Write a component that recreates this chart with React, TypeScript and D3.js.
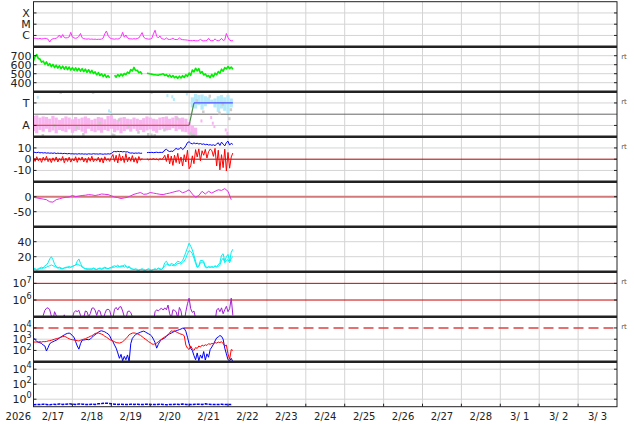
import * as d3 from "d3";

// hours are counted from 2/17 00:00, one value per step
const dayLabels = ["2/17", "2/18", "2/19", "2/20", "2/21", "2/22", "2/23", "2/24", "2/25", "2/26", "2/27", "2/28", "3/ 1", "3/ 2", "3/ 3"];
const yearLabel = "2026";

// X-ray flux, 1e-7 W/m2, hourly
const xray = [
  5.5, 5.8, 5.2, 5.0, 5.4, 4.9, 5.1, 5.6, 5.3, 4.6,
  2.6, 4.4, 5.0, 5.3, 5.6, 7.2, 11, 6.2, 12, 6.5,
  6.0, 6.3, 7.4, 19, 7.1, 6.0, 5.6, 6.1, 8.5, 15,
  6.2, 5.2, 4.9, 4.7, 5.0, 4.6, 4.8, 4.5, 4.7, 4.4,
  4.6, 4.5, 4.8, 6.0, 14, 25, 10, 6.3, 5.2, 4.9,
  4.7, 5.0, 4.8, 5.2, 8.0, 19, 7.0, 11, 6.0, 5.2,
  5.0, 4.8, 5.1, 4.9, 5.3, 6.0, 10, 18, 7.0, 5.4,
  5.0, 4.7, 4.8, 5.5, 14, 29, 8.5, 6.0, 9.0, 5.2,
  4.8, 4.5, 6.0, 4.6, 4.4, 4.7, 5.6, 4.5, 4.3, 4.4,
  6.0, 4.6, 4.2, 4.1, 4.0, 3.8, 3.6, 3.5, 3.4, 3.6,
  3.4, 3.3, 3.6, 4.5, 3.5, 3.3, 3.4, 3.6, 5.5, 3.6,
  3.4, 3.5, 5.0, 3.6, 3.4, 3.8, 5.5, 3.6, 4.0, 15,
  6.5, 3.8, 3.4, 3.5,
];

// solar wind speed km/s, hourly
const speed = [
  640, 690, 712, 668, 662, 628, 640, 605, 632, 592,
  612, 578, 604, 568, 594, 562, 588, 556, 584, 550,
  578, 546, 574, 540, 568, 536, 564, 532, 560, 528,
  556, 524, 550, 516, 544, 510, 536, 502, 520, 488,
  512, 480, 498, 468, 492, 460, 478, 455, null, null,
  482, 462, 490, 470, 496, 476, 502, 490, 518, 504,
  545, 530, 570, 535, 538, 510, 522, 492, null, null,
  505, 502, 498, 495, 490, 488, 486, 484, 490, 494,
  500, 480, 490, 468, 486, 462, 480, 455, 470, 448,
  472, 452, 478, 458, 488, 470, 508, 482, 540, 520,
  560, 532, 556, 505, 524, 486, 498, 470, 480, 456,
  492, 466, 506, 488, 524, 506, 550, 528, 568, 552,
  580, 555, 574, 550,
];

// sector: A = 1, T = 3
const sectorHours = [0, 96, 99, 123];
const sectorSide = [1, 1, 3, 3];
const sectorColors = ["#f04848", "#4a8a4a", "#5050ff"];

// away spread, every 2 h from 0
const awayHi = [
  1.85, 1.9, 1.7, 1.8, 1.75, 1.6, 1.85, 1.7, 1.5, 1.65,
  1.8, 1.7, 1.55, 1.75, 1.6, 1.7, 1.8, 1.65, 1.5, 1.6,
  1.75, 1.7, 1.55, 1.85, 1.9, 1.6, 1.5, 1.7, 1.75, 1.6,
  1.55, 1.7, 1.6, 1.5, 1.65, 1.8, 1.7, 1.6, 1.55, 1.7,
  1.75, 1.8, 1.6, 1.7, 1.85, 1.65, 1.7, 1.6, 1.3, 1.0,
  0.8,
];
const awayLo = [
  0.5, 0.3, 0.6, 0.45, 0.7, 0.4, 0.55, 0.3, 0.6, 0.5,
  0.4, 0.65, 0.35, 0.5, 0.6, 0.45, 0.3, 0.7, 0.5, 0.4,
  0.55, 0.35, 0.6, 0.5, 0.7, 0.4, 0.55, 0.3, 0.5, 0.65,
  0.45, 0.7, 0.5, 0.6, 0.4, 0.55, 0.65, 0.5, 0.35, 0.6,
  0.7, 0.55, 0.6, 0.75, 0.5, 0.65, 0.45, 0.4, 0.2, 0.1,
  0.1,
];
// toward spread, every 2 h from 98
const towardHi = [3.5, 3.8, 3.7, 3.75, 3.6, 3.5, 3.3, 3.4, 3.6, 3.7, 3.5, 3.7, 3.4];
const towardLo = [2.6, 2.5, 2.8, 2.4, 2.7, 2.9, 3.0, 2.6, 2.2, 2.5, 2.3, 2.1, 2.6];
const towardDots = [[2, 3.5], [46, 2.3], [47, 2.15], [82, 3.65], [85, 3.55], [86, 3.3], [94, 3.8]];
const awayDots = [[109, 1.7], [110, 1.2], [111, 0.9], [118, 0.6], [119, 0.3], [103, 1.4]];
const grayDots = [
  [5, 0.1], [16, 3.95], [30, 0.2], [36, 3.95], [48, 0.15], [49, 0.1], [58, 0.9], [70, 0.2],
  [72, 0.15], [72, 3.95], [74, 0.1], [88, 1.6], [96, 0.3], [97, 0.1], [98, 0.15], [104, 2.2],
  [114, 2.1], [120, 1.6], [121, 2.4], [40, 1.2], [64, 0.4], [12, 1.0], [26, 0.8], [52, 1.5],
  [80, 0.6], [100, 3.2], [108, 3.6], [116, 2.9],
];

// IMF Bt and Bz, nT, hourly
const bt = [
  6.4, 6.0, 5.8, 6.2, 5.6, 5.9, 5.5, 5.8, 5.4, 5.6,
  5.3, 5.5, 5.2, 5.6, 5.0, 5.4, 5.1, 5.3, 4.9, 5.2,
  5.0, 4.8, 5.1, 4.7, 4.9, 4.6, 4.8, 4.5, 4.9, 4.6,
  4.8, 4.5, 4.7, 4.4, 4.8, 4.6, 4.5, 4.9, 4.6, 4.7,
  4.5, 4.8, 4.6, 4.4, 4.7, 4.5, 4.8, 4.6, 5.0, 6.5,
  6.9, 6.6, 7.0, 6.7, 6.9, 6.5, 6.8, 6.4, 6.6, 5.8,
  5.4, 5.6, 5.2, 5.5, 5.3, 5.6, 5.2, 5.4, null, null,
  5.8, 6.0, 5.9, 6.1, 5.8, 6.0, 6.2, 5.9, 6.1, 6.0,
  6.2, 8.2, 8.8, 7.5, 6.8, 7.2, 6.9, 8.5, 9.6, 8.8,
  9.2, 10.5, 8.6, 9.8, 12.0, 14.8, 15.5, 14.2, 13.6, 14.5,
  13.8, 14.2, 13.5, 13.9, 13.2, 13.6, 12.9, 13.3, 12.6, 12.9,
  12.4, 12.8, 12.1, 13.5, 14.6, 12.2, 15.2, 13.4, 11.8, 14.8,
  16.0, 12.5, 14.2, 13.1,
];
const bz = [
  1.5, -2.0, 2.2, -1.5, 0.8, -2.8, 1.8, -1.2, 2.5, -2.2,
  0.5, -3.0, 1.2, -1.8, 2.0, -2.5, 0.6, -1.4, 2.4, -3.2,
  1.0, -2.0, 1.8, -2.6, 0.4, -1.6, 2.2, -2.8, 1.4, -1.0,
  2.0, -2.4, 0.8, -3.0, 1.6, -1.8, 2.6, -2.2, 0.2, -1.5,
  1.8, -2.6, 1.2, -3.4, 2.2, -1.2, 0.6, -2.0, 1.5, 4.2,
  -2.0, 3.5, -3.4, 4.8, -1.5, 2.8, -3.0, 5.0, -2.2, 2.0,
  -1.8, 3.2, -2.6, 1.4, -3.6, 2.4, -1.0, 0.8, null, null,
  0.4, -0.6, 0.2, -0.3, 0.6, -0.4, 0.3, -0.8, 0.5, -0.2,
  0.8, 3.5, -2.0, 4.6, -4.2, 2.8, -5.5, 3.6, -3.0, 5.2,
  -4.0, 2.0, -6.0, 4.0, -2.5, 8.0, -8.5, -6.0, 3.0, -4.0,
  8.5, 2.0, 9.2, -1.5, 7.5, 3.5, 8.8, 1.0, 6.5, 9.0,
  7.8, 2.5, 9.6, -6.0, 8.0, -9.5, 4.0, -7.5, 9.0, -10.5,
  6.0, -8.0, 2.0, 5.5,
];

// Dst nT, every 2 h
const dst = [
  -2, -4, -6, -8, -10, -17, -18, -10, -7, -4,
  -2, -1, 4, 0, 2, 4, 5, 7, 6, 4,
  6, 9, 8, 7, 3, -1, -3, -6, -4, -2,
  3, 8, 11, 14, 8, 9, 14, 12, 10, 8,
  7, 10, 12, 15, 18, 20, 13, 17, 23, 9,
  -2, 4, 18, 9, 18, 12, 18, 23, 21, 27,
  18, -10,
];

// proton density /cc, hourly (two sources)
const densityA = [
  5, 4, 3, 4, 5, 6, 5, 8, 9, 12,
  17, 20, 16, 10, 7, 5, 6, 5, 4, 5,
  5, 6, 5, 6, 7, 8, 9, 14, 17, 11,
  7, 5, 4, 3, 4, 3, 4, 5, 4, 3,
  4, 5, 4, 5, 6, 5, 4, 5, 6, 7,
  8, 7, 9, 6, 8, 7, 9, 8, 6, 7,
  5, 4, 3, 4, 3, 2, 3, 4, 3, 2,
  3, 4, 3, 2, 3, 4, 3, 5, 4, 3,
  6, 12, 14, 10, 9, 11, 10, 9, 12, 14,
  13, 12, 15, 20, 26, 32, 38, 34, 29, 22,
  14, 6, 8, 15, 15, 14, 6, 5, 7, 6,
  7, 6, 8, 7, 9, 12, 22, 24, 14, 20,
  23, 14, 26, 30,
];
const densityB = [
  3, 3, 2, 3, 4, 4, 5, 5, 6, 7,
  8, 9, 8, 7, 6, 5, 5, 4, 4, 5,
  6, 6, 7, 6, 7, 8, 9, 10, 9, 8,
  6, 5, 4, 4, 3, 4, 3, 4, 3, 3,
  4, 4, 3, 4, 5, 4, 4, 5, 5, 6,
  6, 7, 6, 7, 6, 8, 6, 7, 5, 6,
  4, 3, 3, 3, 2, 2, 3, 3, 2, 2,
  3, 3, 2, 2, 3, 3, 3, 4, 3, 3,
  5, 8, 10, 9, 8, 9, 8, 8, 9, 11,
  11, 10, 12, 14, 18, 24, 28, 27, 24, 18,
  11, 6, 7, 12, 13, 12, 7, 6, 6, 6,
  6, 6, 7, 6, 7, 9, 15, 18, 12, 15,
  16, 12, 18, 20,
];

// electron fluence, 1e5 units, hourly
const electrons = [
  0.5, 0.5, 0.5, 0.5, 0.5, 0.5, 1.2, 2.4, 3.2, 3.4,
  2.6, 1.1, 0.6, 2.0, 1.2, 0.5, 0.5, 0.5, 0.6, 1.3,
  0.5, 0.5, 0.7, 0.5, 0.9, 1.8, 2.3, 2.0, 2.4, 1.2,
  0.5, 0.9, 2.2, 2.0, 1.0, 1.5, 3.2, 3.4, 2.5, 1.2,
  2.4, 2.2, 1.0, 0.6, 1.5, 2.6, 2.8, 2.4, 1.0, 0.8,
  2.8, 3.6, 2.5, 3.8, 4.0, 2.2, 1.0, 0.7, 2.0, 2.2,
  1.8, 1.0, 0.5, 0.5, 0.5, 0.5, 0.5, 0.5, 0.5, 0.5,
  0.5, 0.5, 0.5, 0.5, 0.5, 2.0, 2.6, 2.2, 2.8, 3.2,
  2.5, 3.4, 2.6, 5.0, 1.5, 0.8, 2.6, 2.4, 2.0, 0.8,
  3.6, 2.2, 0.6, 0.5, 2.0, 6.0, 13.0, 3.0, 1.8, 2.2,
  0.8, 0.5, 0.5, 0.5, 0.5, 0.5, 0.5, 0.5, 0.5, 0.5,
  0.5, 0.5, 0.5, 2.5, 3.2, 2.0, 3.4, 1.5, 2.6, 4.2,
  2.0, 3.0, 13.0, 1.2,
];

// particle flux, hourly
const fluxBlue = [
  1300, 900, 650, 520, 480, 420, 300, 250, 90, 180,
  400, 500, 600, 700, 800, 1000, 1300, 1600, 2000, 2400,
  2900, 3300, 3500, 3000, 2000, 1500, 600, 250, 130, 400,
  800, 850, 900, 950, 900, 1000, 1400, 2000, 2500, 3200,
  4200, 5200, 5600, 5000, 4500, 3600, 3000, 2000, 1000, 600,
  300, 160, 60, 20, 45, 12, 30, 15, 40, 10,
  400, 1200, 1800, 2600, 3200, 3600, 4200, 4800, 5200, 4400,
  3600, 3000, 2500, 1800, 1000, 500, 160, 350, 650, 900,
  1100, 1300, 1800, 2400, 3000, 3500, 4200, 5000, 5600, 6300,
  7100, 8000, 9500, 9000, 5000, 1500, 400, 150, 100, 35,
  15, 60, 12, 40, 20, 80, 14, 50, 25, 120,
  200, 350, 700, 1300, 1600, 2100, 1800, 1000, 160, 50,
  15, 12, 20, 10,
];
const fluxRed = [
  560, 560, 560, 580, 600, 560, 620, 600, 630, 700,
  750, 800, 900, 1000, 1100, 1200, 1300, 1500, 1700, 1800,
  1600, 1300, 1100, 950, 900, 850, 800, 750, 700, 800,
  900, 1000, 1100, 1300, 1500, 1800, 2000, 2600, 3200, 3500,
  3600, 3200, 2800, 2400, 1800, 1500, 1200, 900, 800, 700,
  600, 500, 480, 450, 500, 600, 800, 1100, 1600, 2500,
  3000, 3500, 3600, 3400, 3000, 2600, 2200, 1700, 1300, 1000,
  800, 600, 500, 380, 350, 400, 450, 600, 800, 1000,
  1300, 1600, 2000, 2600, 3600, 5600, 5000, 5600, 4500, 3800,
  3200, 2800, 2600, 2000, 300, 160, 120, 250, 130, 100,
  180, 150, 250, 200, 300, 250, 320, 280, 400, 350,
  420, 380, 500, 450, 550, 500, 600, 400, 250, 300,
  50, 16, 120, 100,
];

// bottom panel, every 2 h
const lowFlux = [
  0.18, 0.2, 0.19, 0.22, 0.2, 0.18, 0.21, 0.2, 0.23, 0.2,
  0.22, 0.24, 0.21, 0.2, 0.23, 0.22, 0.2, 0.19, 0.21, 0.2,
  0.24, 0.26, 0.3, 0.28, 0.25, 0.22, 0.2, 0.21, 0.2, 0.19,
  0.22, 0.2, 0.21, 0.19, 0.2, 0.22, 0.2, 0.19, 0.2, 0.21,
  0.2, 0.18, 0.2, 0.19, 0.21, 0.2, 0.23, 0.2, 0.19, 0.2,
  0.21, 0.22, 0.2, 0.24, 0.21, 0.2, 0.19, 0.2, 0.21, 0.2,
  0.19, 0.2,
];

const W = 634;
const H = 424;
const LEFT = 33.5;
const RIGHT = 617;
const TOP = 1.7;
const PH = 45;
const FONT = "DejaVu Sans, sans-serif";

const x = d3.scaleLinear([0, 360], [LEFT, RIGHT]);
const band = (i: number): [number, number] => [TOP + (i + 1) * PH, TOP + i * PH];

const yXray = d3.scaleLog([1e-7, 1e-3], band(0));
const ySpeed = d3.scaleLinear([300, 800], band(1));
const ySector = d3.scaleLinear([0, 4], band(2));
const yB = d3.scaleLinear([-20, 20], band(3));
const yDst = d3.scaleLinear([-100, 50], band(4));
const yDens = d3.scaleLinear([0, 60], band(5));
const yElec = d3.scaleLog([1e5, 5e7], band(6));
const yFlux = d3.scaleLog([10, 1e5], band(7));
const yLow = d3.scaleLog([0.1, 1e5], band(8));

type Lab = { v: number; t: string; e?: string };
const panels: { y: any; grid: number[]; labels: Lab[]; rt?: boolean }[] = [
  { y: yXray, grid: [1e-4, 1e-5, 1e-6], labels: [{ v: 1e-4, t: "X" }, { v: 1e-5, t: "M" }, { v: 1e-6, t: "C" }] },
  { y: ySpeed, grid: [700, 600, 500, 400], labels: [700, 600, 500, 400].map((v) => ({ v, t: String(v) })), rt: true },
  { y: ySector, grid: [3, 1], labels: [{ v: 3, t: "T" }, { v: 1, t: "A" }], rt: true },
  { y: yB, grid: [10, -10], labels: [{ v: 10, t: "10" }, { v: 0, t: "0" }, { v: -10, t: "-10" }], rt: true },
  { y: yDst, grid: [-50], labels: [{ v: 0, t: "0" }, { v: -50, t: "-50" }] },
  { y: yDens, grid: [40, 20], labels: [{ v: 40, t: "40" }, { v: 20, t: "20" }] },
  { y: yElec, grid: [], labels: [{ v: 1e7, t: "10", e: "7" }, { v: 1e6, t: "10", e: "6" }], rt: true },
  { y: yFlux, grid: [1e3, 1e2], labels: [{ v: 1e4, t: "10", e: "4" }, { v: 1e3, t: "10", e: "3" }, { v: 1e2, t: "10", e: "2" }], rt: true },
  { y: yLow, grid: [1e4, 1e2, 1], labels: [{ v: 1e4, t: "10", e: "4" }, { v: 1e2, t: "10", e: "2" }, { v: 1, t: "10", e: "0" }] },
];

function path(y: any, vals: (number | null)[], step = 1, mul = 1) {
  const gen = d3
    .line<number | null>()
    .defined((d) => d != null)
    .x((_, i) => x(i * step))
    .y((d) => y((d as number) * mul));
  return gen(vals) ?? undefined;
}

export default function App() {
  const days = d3.range(1, 15).map((d) => d * 24);
  const sep = d3.range(1, 9).map((i) => TOP + i * PH);
  const step2 = x(2) - x(0);

  return (
    <svg width={W} height={H} style={{ display: "block", position: "absolute", left: 0, top: 0, background: "#fff" }} fontFamily={FONT}>
      <defs>
        {panels.map((_, i) => (
          <clipPath id={`clip${i}`} key={i}>
            <rect x={LEFT} y={TOP + i * PH} width={RIGHT - LEFT} height={PH} />
          </clipPath>
        ))}
      </defs>

      {/* grid */}
      <g stroke="#d4d4d4" strokeWidth={1}>
        {days.map((d) => (
          <line key={d} x1={x(d)} x2={x(d)} y1={TOP} y2={TOP + 9 * PH} />
        ))}
        {panels.map((p, i) =>
          p.grid.map((v) => <line key={`${i}-${v}`} x1={LEFT} x2={RIGHT} y1={p.y(v)} y2={p.y(v)} />)
        )}
      </g>
      <line x1={LEFT} x2={RIGHT} y1={ySector(2)} y2={ySector(2)} stroke="#666" strokeWidth={1} />
      <line x1={LEFT} x2={RIGHT} y1={yB(0)} y2={yB(0)} stroke="#b00000" strokeWidth={1} />
      <line x1={LEFT} x2={RIGHT} y1={yDst(0)} y2={yDst(0)} stroke="#d27878" strokeWidth={2} />
      <line x1={LEFT} x2={RIGHT} y1={yElec(1e7)} y2={yElec(1e7)} stroke="#cc0000" strokeWidth={1} />
      <line x1={LEFT} x2={RIGHT} y1={yElec(1e6)} y2={yElec(1e6)} stroke="#cc0000" strokeWidth={1} />
      <line x1={LEFT} x2={RIGHT} y1={yFlux(1e4)} y2={yFlux(1e4)} stroke="#e04040" strokeWidth={1.5} strokeDasharray="10,5" />

      {/* data */}
      <g fill="none" strokeWidth={1} strokeLinejoin="round">
        <path clipPath="url(#clip0)" d={path(yXray, xray, 1, 1e-7)} stroke="#ff30ff" />
        <path clipPath="url(#clip1)" d={path(ySpeed, speed)} stroke="#00ee00" strokeWidth={1.6} />
        <g clipPath="url(#clip2)">
          <g fill="#f8b6f0">
            {awayHi.map((hi, i) => (
              <rect key={i} x={x(i * 2) - step2 / 2} y={ySector(hi)} width={step2} height={ySector(awayLo[i]) - ySector(hi)} />
            ))}
            {awayDots.map(([t, v], i) => (
              <rect key={`d${i}`} x={x(t)} y={ySector(v) - 1.5} width={2} height={3} />
            ))}
          </g>
          <g fill="#b4eafa">
            {towardHi.map((hi, i) => (
              <rect key={i} x={x(98 + i * 2) - step2 / 2} y={ySector(hi)} width={step2} height={ySector(towardLo[i]) - ySector(hi)} />
            ))}
            {towardDots.map(([t, v], i) => (
              <rect key={`d${i}`} x={x(t)} y={ySector(v) - 1.5} width={2} height={3} />
            ))}
          </g>
          <g fill="#cccccc">
            {grayDots.map(([t, v], i) => (
              <rect key={i} x={x(t)} y={ySector(v) - 1.5} width={2.5} height={3} />
            ))}
          </g>
          {sectorColors.map((c, i) => (
            <line
              key={i}
              x1={x(sectorHours[i])}
              x2={x(sectorHours[i + 1])}
              y1={ySector(sectorSide[i])}
              y2={ySector(sectorSide[i + 1])}
              stroke={c}
              strokeWidth={1.2}
            />
          ))}
        </g>
        <g clipPath="url(#clip3)">
          <path d={path(yB, bt)} stroke="#0000ff" />
          <path d={path(yB, bz)} stroke="#ff0000" />
        </g>
        <path clipPath="url(#clip4)" d={path(yDst, dst, 2)} stroke="#e030e0" />
        <g clipPath="url(#clip5)" stroke="#00f0f0">
          <path d={path(yDens, densityB)} />
          <path d={path(yDens, densityA)} />
        </g>
        <path clipPath="url(#clip6)" d={path(yElec, electrons, 1, 1e5)} stroke="#a020d0" />
        <g clipPath="url(#clip7)">
          <path d={path(yFlux, fluxBlue)} stroke="#0000ff" />
          <path d={path(yFlux, fluxRed)} stroke="#ff0000" />
        </g>
        <path clipPath="url(#clip8)" d={path(yLow, lowFlux, 2)} stroke="#0000ff" strokeWidth={1.5} strokeDasharray="3,1" />
      </g>

      {/* frame */}
      <g stroke="#222">
        <rect x={LEFT} y={TOP} width={RIGHT - LEFT} height={9 * PH} fill="none" strokeWidth={1} />
        {sep.map((y) => (
          <line key={y} x1={LEFT} x2={RIGHT} y1={y} y2={y} strokeWidth={2.5} />
        ))}
        {days.map((d) => (
          <line key={d} x1={x(d)} x2={x(d)} y1={TOP + 9 * PH} y2={TOP + 9 * PH - 3} strokeWidth={1} />
        ))}
        {panels.map((p, i) =>
          p.labels.map((l) => (
            <g key={`${i}-${l.v}`} strokeWidth={1}>
              <line x1={LEFT} x2={LEFT + 3} y1={p.y(l.v)} y2={p.y(l.v)} />
              <line x1={RIGHT} x2={RIGHT - 3} y1={p.y(l.v)} y2={p.y(l.v)} />
            </g>
          ))
        )}
      </g>

      {/* labels */}
      <g fill="#222" fontSize={11}>
        {panels.map((p, i) =>
          p.labels.map((l) => (
            <text
              key={`${i}-${l.v}`}
              x={l.t.length === 1 && isNaN(+l.t) ? 26 : 31.5}
              y={p.y(l.v)}
              dy="0.36em"
              textAnchor={l.t.length === 1 && isNaN(+l.t) ? "middle" : "end"}
            >
              {l.e ? (
                <>
                  {l.t}
                  <tspan fontSize={8} dy="-0.6em">
                    {l.e}
                  </tspan>
                </>
              ) : (
                l.t
              )}
            </text>
          ))
        )}
      </g>
      <g fill="#555" fontSize={7}>
        {panels.map((p, i) =>
          p.rt ? (
            <text key={i} x={624} y={TOP + i * PH + 10} dy="0.35em" textAnchor="middle">
              rt
            </text>
          ) : null
        )}
      </g>
      <g fill="#222" fontSize={10} textAnchor="middle" style={{ whiteSpace: "pre" }}>
        <text x={18.3} y={420}>
          {yearLabel}
        </text>
        {dayLabels.map((l, i) => (
          <text key={l} x={x(i * 24 + 12)} y={420}>
            {l}
          </text>
        ))}
      </g>
    </svg>
  );
}
